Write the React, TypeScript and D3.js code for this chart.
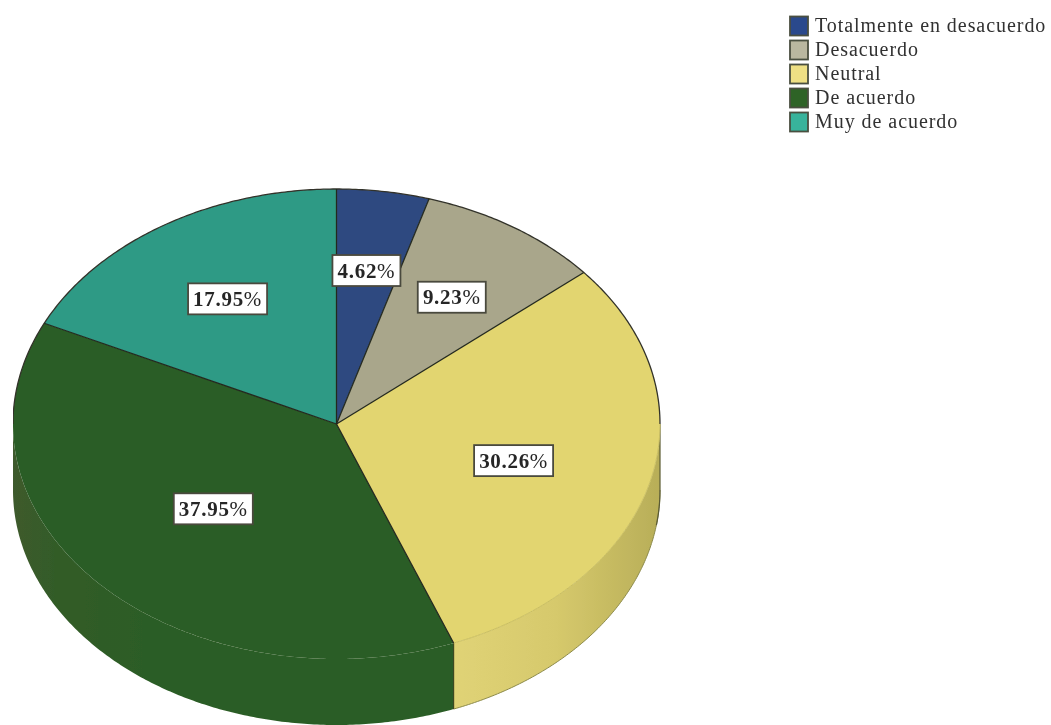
import React from 'react';
import * as d3 from 'd3';

const categories = ['Totalmente en desacuerdo', 'Desacuerdo', 'Neutral', 'De acuerdo', 'Muy de acuerdo'];
const percents = [4.62, 9.23, 30.26, 37.95, 17.95];
const colors = ['#2f4a80', '#a9a68b', '#e2d56f', '#2c5d25', '#2f9a85'];
const legendColors = ['#2c4a8c', '#b9b79f', '#eee084', '#2f6326', '#37b39b'];
// how far along the radius each label sits, across and down
const labelRadiusX = [0.64, 0.65, 0.565, 0.52, 0.63];
const labelRadiusY = [0.66, 0.645, 0.63, 0.53, 0.63];

const width = 1051;
const height = 725;
const depth = 66;

const x = d3.scaleLinear().domain([-1, 1]).range([13, 660]);
const y = d3.scaleLinear().domain([-1, 1]).range([189, 659]);

const pie = d3.pie<number>().sort(null).value((d) => d);
const slices = pie(percents);

const px = (a: number, r = 1) => x(Math.sin(a) * r);
const py = (a: number, r = 1) => y(-Math.cos(a) * r);

const line = d3.line<[number, number]>();

const sampleAngles = (a0: number, a1: number) => {
  const step = 0.01;
  return [...d3.range(a0, a1, step), a1];
};

const rimPoints = (a0: number, a1: number, z = 0): [number, number][] =>
  sampleAngles(a0, a1).map((a) => [px(a), py(a) + z]);

const slicePath = (a0: number, a1: number) =>
  line([[x(0), y(0)], ...rimPoints(a0, a1)]) + 'Z';

const sidePath = (a0: number, a1: number) =>
  line([...rimPoints(a0, a1), ...rimPoints(a0, a1, depth).reverse()]) + 'Z';

const FRONT_START = Math.PI / 2;
const FRONT_END = (3 * Math.PI) / 2;

export default function App() {
  const yellow = slices[2];

  return (
    <svg
      width={width}
      height={height}
      viewBox={`0 0 ${width} ${height}`}
      style={{ position: 'absolute', left: 0, top: 0, background: '#fff' }}
      fontFamily="'Liberation Serif', serif"
    >
      <defs>
        <filter id="scan" x="0" y="0" width="100%" height="100%">
          <feGaussianBlur stdDeviation="0.7" />
        </filter>
        <linearGradient id="sideYellow" gradientUnits="userSpaceOnUse" x1={452} x2={660} y1={0} y2={0}>
          <stop offset="0" stopColor="#e0d376" />
          <stop offset="0.5" stopColor="#d6c96c" />
          <stop offset="1" stopColor="#b8ae58" />
        </linearGradient>
        <linearGradient id="sideGreen" gradientUnits="userSpaceOnUse" x1={12} x2={452} y1={0} y2={0}>
          <stop offset="0" stopColor="#3f5a2d" />
          <stop offset="0.1" stopColor="#325b28" />
          <stop offset="0.3" stopColor="#2c5d25" />
          <stop offset="1" stopColor="#2c5d25" />
        </linearGradient>
      </defs>

      <g filter="url(#scan)">
        {/* side wall */}
        <path d={sidePath(FRONT_START, yellow.endAngle)} fill="url(#sideYellow)" />
        <path d={sidePath(yellow.endAngle, FRONT_END)} fill="url(#sideGreen)" />
        <path
          d={line(rimPoints(FRONT_START, yellow.endAngle, depth)) ?? ''}
          fill="none"
          stroke="#8c8a4a"
          strokeWidth={1}
        />
        <path
          d={line([
            [px(yellow.endAngle), py(yellow.endAngle)],
            [px(yellow.endAngle), py(yellow.endAngle) + depth],
          ]) ?? ''}
          stroke="#3d4a22"
          strokeWidth={1.2}
          fill="none"
        />
        {/* dark outer edge down the right of the wall */}
        <path
          d={line([[px(FRONT_START), py(FRONT_START)], ...rimPoints(FRONT_START, FRONT_START + 0.15, depth)]) ?? ''}
          stroke="#5a5a34"
          strokeWidth={1.2}
          fill="none"
        />

        {/* top face */}
        {slices.map((s, i) => (
          <path key={categories[i]} d={slicePath(s.startAngle, s.endAngle)} fill={colors[i]} />
        ))}

        {/* soft front edge of the yellow slice */}
        <path
          d={line(rimPoints(FRONT_START, yellow.endAngle)) ?? ''}
          fill="none"
          stroke="#c9be62"
          strokeWidth={1}
        />
        {/* back rim and the slice borders */}
        <path
          d={line(rimPoints(-Math.PI / 2, Math.PI / 2)) ?? ''}
          fill="none"
          stroke="#33332a"
          strokeWidth={1.3}
        />
        {slices.map((s, i) => (
          <path
            key={`r-${i}`}
            d={line([
              [x(0), y(0)],
              [px(s.startAngle), py(s.startAngle)],
            ]) ?? ''}
            fill="none"
            stroke="#24291f"
            strokeWidth={1.3}
          />
        ))}

        {/* value labels */}
        {slices.map((s, i) => {
          const mid = (s.startAngle + s.endAngle) / 2;
          const cx = x(Math.sin(mid) * labelRadiusX[i]);
          const cy = y(-Math.cos(mid) * labelRadiusY[i]);
          const label = percents[i].toFixed(2);
          const w = label.length === 4 ? 68 : 79;
          return (
            <g key={`l-${i}`} transform={`translate(${cx},${cy})`}>
              <rect x={-w / 2} y={-15.5} width={w} height={31} fill="#fff" stroke="#4a4a3e" strokeWidth={1.8} />
              <text textAnchor="middle" y={7} fontSize={21} fontWeight="bold" fill="#262626" letterSpacing={0.7}>
                {label}
                <tspan fontWeight="normal">%</tspan>
              </text>
            </g>
          );
        })}

        {/* legend */}
        {categories.map((c, i) => {
          const rowY = 26 + i * 24;
          return (
            <g key={`k-${c}`} transform={`translate(790,${rowY})`}>
              <rect x={0} y={-9.5} width={18} height={19} fill={legendColors[i]} stroke="#4a4f40" strokeWidth={1.8} />
              <text x={25} y={6} fontSize={20} fill="#303030" letterSpacing={0.95}>
                {c}
              </text>
            </g>
          );
        })}
      </g>
    </svg>
  );
}
